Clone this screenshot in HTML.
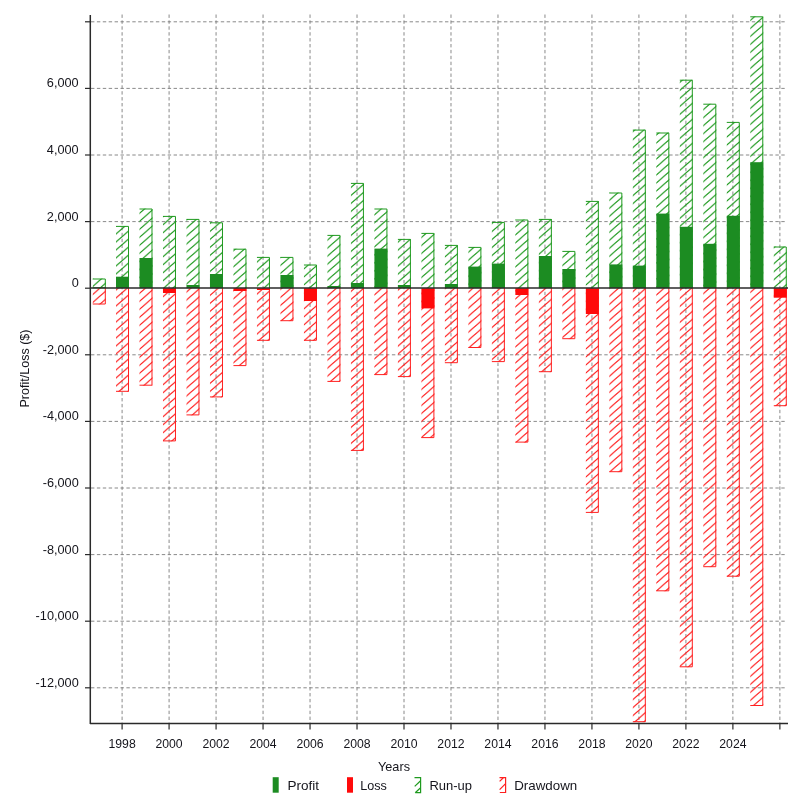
<!DOCTYPE html>
<html><head><meta charset="utf-8"><title>Profit/Loss by Years</title>
<style>html,body{margin:0;padding:0;background:#fff}body{width:802px;height:801px;overflow:hidden}svg{display:block}text{font-family:"Liberation Sans",sans-serif;fill:#15151c}</style></head><body>
<svg width="802" height="801" viewBox="0 0 802 801">
<defs>
<pattern id="hg" patternUnits="userSpaceOnUse" width="9.1" height="8" x="0" y="0"><path d="M-9.1,16 L18.2,-8 M-9.1,8 L9.1,-8 M0,16 L18.2,0" stroke="#1f9a1f" stroke-width="1.2" fill="none"/></pattern>
<pattern id="hr" patternUnits="userSpaceOnUse" width="9.1" height="8" x="0" y="0"><path d="M-9.1,16 L18.2,-8 M-9.1,8 L9.1,-8 M0,16 L18.2,0" stroke="#ff2020" stroke-width="1.2" fill="none"/></pattern>
</defs>
<rect width="802" height="801" fill="#fff"/>
<g stroke="#6e6e6e" stroke-width="0.9" stroke-dasharray="3.4 2.5" fill="none" opacity="0.9">
<line x1="122.10" y1="14.5" x2="122.10" y2="723"/>
<line x1="169.08" y1="14.5" x2="169.08" y2="723"/>
<line x1="216.07" y1="14.5" x2="216.07" y2="723"/>
<line x1="263.05" y1="14.5" x2="263.05" y2="723"/>
<line x1="310.04" y1="14.5" x2="310.04" y2="723"/>
<line x1="357.02" y1="14.5" x2="357.02" y2="723"/>
<line x1="404.00" y1="14.5" x2="404.00" y2="723"/>
<line x1="450.99" y1="14.5" x2="450.99" y2="723"/>
<line x1="497.97" y1="14.5" x2="497.97" y2="723"/>
<line x1="544.96" y1="14.5" x2="544.96" y2="723"/>
<line x1="591.94" y1="14.5" x2="591.94" y2="723"/>
<line x1="638.92" y1="14.5" x2="638.92" y2="723"/>
<line x1="685.91" y1="14.5" x2="685.91" y2="723"/>
<line x1="732.89" y1="14.5" x2="732.89" y2="723"/>
<line x1="779.88" y1="14.5" x2="779.88" y2="723"/>
<line x1="91" y1="687.80" x2="786" y2="687.80"/>
<line x1="91" y1="621.20" x2="786" y2="621.20"/>
<line x1="91" y1="554.60" x2="786" y2="554.60"/>
<line x1="91" y1="488.00" x2="786" y2="488.00"/>
<line x1="91" y1="421.40" x2="786" y2="421.40"/>
<line x1="91" y1="354.80" x2="786" y2="354.80"/>
<line x1="91" y1="221.60" x2="786" y2="221.60"/>
<line x1="91" y1="155.00" x2="786" y2="155.00"/>
<line x1="91" y1="88.40" x2="786" y2="88.40"/>
<line x1="91" y1="21.80" x2="786" y2="21.80"/>
</g>
<rect x="92.81" y="278.60" width="13.0" height="9.60" fill="url(#hg)"/>
<path d="M92.81,279.00 H105.31 V288.20" stroke="#1f9a1f" stroke-width="1" fill="none"/>
<rect x="92.81" y="288.20" width="13.0" height="16.20" fill="url(#hr)"/>
<path d="M92.81,304.00 H105.31 V288.20" stroke="#ff2020" stroke-width="1" fill="none"/>
<rect x="116.00" y="226.00" width="13.0" height="62.20" fill="url(#hg)"/>
<path d="M116.00,226.40 H128.50 V288.20" stroke="#1f9a1f" stroke-width="1" fill="none"/>
<rect x="116.00" y="288.20" width="13.0" height="103.50" fill="url(#hr)"/>
<path d="M116.00,391.30 H128.50 V288.20" stroke="#ff2020" stroke-width="1" fill="none"/>
<rect x="139.49" y="208.60" width="13.0" height="79.60" fill="url(#hg)"/>
<path d="M139.49,209.00 H151.99 V288.20" stroke="#1f9a1f" stroke-width="1" fill="none"/>
<rect x="139.49" y="288.20" width="13.0" height="97.40" fill="url(#hr)"/>
<path d="M139.49,385.20 H151.99 V288.20" stroke="#ff2020" stroke-width="1" fill="none"/>
<rect x="162.98" y="216.00" width="13.0" height="72.20" fill="url(#hg)"/>
<path d="M162.98,216.40 H175.48 V288.20" stroke="#1f9a1f" stroke-width="1" fill="none"/>
<rect x="162.98" y="288.20" width="13.0" height="153.10" fill="url(#hr)"/>
<path d="M162.98,440.90 H175.48 V288.20" stroke="#ff2020" stroke-width="1" fill="none"/>
<rect x="186.48" y="219.00" width="13.0" height="69.20" fill="url(#hg)"/>
<path d="M186.48,219.40 H198.98 V288.20" stroke="#1f9a1f" stroke-width="1" fill="none"/>
<rect x="186.48" y="288.20" width="13.0" height="127.10" fill="url(#hr)"/>
<path d="M186.48,414.90 H198.98 V288.20" stroke="#ff2020" stroke-width="1" fill="none"/>
<rect x="209.97" y="222.40" width="13.0" height="65.80" fill="url(#hg)"/>
<path d="M209.97,222.80 H222.47 V288.20" stroke="#1f9a1f" stroke-width="1" fill="none"/>
<rect x="209.97" y="288.20" width="13.0" height="109.10" fill="url(#hr)"/>
<path d="M209.97,396.90 H222.47 V288.20" stroke="#ff2020" stroke-width="1" fill="none"/>
<rect x="233.46" y="248.80" width="13.0" height="39.40" fill="url(#hg)"/>
<path d="M233.46,249.20 H245.96 V288.20" stroke="#1f9a1f" stroke-width="1" fill="none"/>
<rect x="233.46" y="288.20" width="13.0" height="77.80" fill="url(#hr)"/>
<path d="M233.46,365.60 H245.96 V288.20" stroke="#ff2020" stroke-width="1" fill="none"/>
<rect x="256.95" y="257.00" width="13.0" height="31.20" fill="url(#hg)"/>
<path d="M256.95,257.40 H269.45 V288.20" stroke="#1f9a1f" stroke-width="1" fill="none"/>
<rect x="256.95" y="288.20" width="13.0" height="52.50" fill="url(#hr)"/>
<path d="M256.95,340.30 H269.45 V288.20" stroke="#ff2020" stroke-width="1" fill="none"/>
<rect x="280.44" y="257.00" width="13.0" height="31.20" fill="url(#hg)"/>
<path d="M280.44,257.40 H292.94 V288.20" stroke="#1f9a1f" stroke-width="1" fill="none"/>
<rect x="280.44" y="288.20" width="13.0" height="32.90" fill="url(#hr)"/>
<path d="M280.44,320.70 H292.94 V288.20" stroke="#ff2020" stroke-width="1" fill="none"/>
<rect x="303.94" y="264.60" width="13.0" height="23.60" fill="url(#hg)"/>
<path d="M303.94,265.00 H316.44 V288.20" stroke="#1f9a1f" stroke-width="1" fill="none"/>
<rect x="303.94" y="288.20" width="13.0" height="52.50" fill="url(#hr)"/>
<path d="M303.94,340.30 H316.44 V288.20" stroke="#ff2020" stroke-width="1" fill="none"/>
<rect x="327.43" y="235.00" width="13.0" height="53.20" fill="url(#hg)"/>
<path d="M327.43,235.40 H339.93 V288.20" stroke="#1f9a1f" stroke-width="1" fill="none"/>
<rect x="327.43" y="288.20" width="13.0" height="93.60" fill="url(#hr)"/>
<path d="M327.43,381.40 H339.93 V288.20" stroke="#ff2020" stroke-width="1" fill="none"/>
<rect x="350.92" y="183.00" width="13.0" height="105.20" fill="url(#hg)"/>
<path d="M350.92,183.40 H363.42 V288.20" stroke="#1f9a1f" stroke-width="1" fill="none"/>
<rect x="350.92" y="288.20" width="13.0" height="162.60" fill="url(#hr)"/>
<path d="M350.92,450.40 H363.42 V288.20" stroke="#ff2020" stroke-width="1" fill="none"/>
<rect x="374.41" y="208.60" width="13.0" height="79.60" fill="url(#hg)"/>
<path d="M374.41,209.00 H386.91 V288.20" stroke="#1f9a1f" stroke-width="1" fill="none"/>
<rect x="374.41" y="288.20" width="13.0" height="86.80" fill="url(#hr)"/>
<path d="M374.41,374.60 H386.91 V288.20" stroke="#ff2020" stroke-width="1" fill="none"/>
<rect x="397.90" y="239.00" width="13.0" height="49.20" fill="url(#hg)"/>
<path d="M397.90,239.40 H410.40 V288.20" stroke="#1f9a1f" stroke-width="1" fill="none"/>
<rect x="397.90" y="288.20" width="13.0" height="88.80" fill="url(#hr)"/>
<path d="M397.90,376.60 H410.40 V288.20" stroke="#ff2020" stroke-width="1" fill="none"/>
<rect x="421.40" y="233.00" width="13.0" height="55.20" fill="url(#hg)"/>
<path d="M421.40,233.40 H433.90 V288.20" stroke="#1f9a1f" stroke-width="1" fill="none"/>
<rect x="421.40" y="288.20" width="13.0" height="149.80" fill="url(#hr)"/>
<path d="M421.40,437.60 H433.90 V288.20" stroke="#ff2020" stroke-width="1" fill="none"/>
<rect x="444.89" y="245.00" width="13.0" height="43.20" fill="url(#hg)"/>
<path d="M444.89,245.40 H457.39 V288.20" stroke="#1f9a1f" stroke-width="1" fill="none"/>
<rect x="444.89" y="288.20" width="13.0" height="74.90" fill="url(#hr)"/>
<path d="M444.89,362.70 H457.39 V288.20" stroke="#ff2020" stroke-width="1" fill="none"/>
<rect x="468.38" y="247.00" width="13.0" height="41.20" fill="url(#hg)"/>
<path d="M468.38,247.40 H480.88 V288.20" stroke="#1f9a1f" stroke-width="1" fill="none"/>
<rect x="468.38" y="288.20" width="13.0" height="59.70" fill="url(#hr)"/>
<path d="M468.38,347.50 H480.88 V288.20" stroke="#ff2020" stroke-width="1" fill="none"/>
<rect x="491.87" y="222.00" width="13.0" height="66.20" fill="url(#hg)"/>
<path d="M491.87,222.40 H504.37 V288.20" stroke="#1f9a1f" stroke-width="1" fill="none"/>
<rect x="491.87" y="288.20" width="13.0" height="73.80" fill="url(#hr)"/>
<path d="M491.87,361.60 H504.37 V288.20" stroke="#ff2020" stroke-width="1" fill="none"/>
<rect x="515.36" y="219.60" width="13.0" height="68.60" fill="url(#hg)"/>
<path d="M515.36,220.00 H527.86 V288.20" stroke="#1f9a1f" stroke-width="1" fill="none"/>
<rect x="515.36" y="288.20" width="13.0" height="154.30" fill="url(#hr)"/>
<path d="M515.36,442.10 H527.86 V288.20" stroke="#ff2020" stroke-width="1" fill="none"/>
<rect x="538.86" y="219.00" width="13.0" height="69.20" fill="url(#hg)"/>
<path d="M538.86,219.40 H551.36 V288.20" stroke="#1f9a1f" stroke-width="1" fill="none"/>
<rect x="538.86" y="288.20" width="13.0" height="83.90" fill="url(#hr)"/>
<path d="M538.86,371.70 H551.36 V288.20" stroke="#ff2020" stroke-width="1" fill="none"/>
<rect x="562.35" y="251.00" width="13.0" height="37.20" fill="url(#hg)"/>
<path d="M562.35,251.40 H574.85 V288.20" stroke="#1f9a1f" stroke-width="1" fill="none"/>
<rect x="562.35" y="288.20" width="13.0" height="50.90" fill="url(#hr)"/>
<path d="M562.35,338.70 H574.85 V288.20" stroke="#ff2020" stroke-width="1" fill="none"/>
<rect x="585.84" y="201.00" width="13.0" height="87.20" fill="url(#hg)"/>
<path d="M585.84,201.40 H598.34 V288.20" stroke="#1f9a1f" stroke-width="1" fill="none"/>
<rect x="585.84" y="288.20" width="13.0" height="224.60" fill="url(#hr)"/>
<path d="M585.84,512.40 H598.34 V288.20" stroke="#ff2020" stroke-width="1" fill="none"/>
<rect x="609.33" y="192.60" width="13.0" height="95.60" fill="url(#hg)"/>
<path d="M609.33,193.00 H621.83 V288.20" stroke="#1f9a1f" stroke-width="1" fill="none"/>
<rect x="609.33" y="288.20" width="13.0" height="183.90" fill="url(#hr)"/>
<path d="M609.33,471.70 H621.83 V288.20" stroke="#ff2020" stroke-width="1" fill="none"/>
<rect x="632.82" y="129.70" width="13.0" height="158.50" fill="url(#hg)"/>
<path d="M632.82,130.10 H645.32 V288.20" stroke="#1f9a1f" stroke-width="1" fill="none"/>
<rect x="632.82" y="288.20" width="13.0" height="433.90" fill="url(#hr)"/>
<path d="M632.82,721.70 H645.32 V288.20" stroke="#ff2020" stroke-width="1" fill="none"/>
<rect x="656.32" y="132.60" width="13.0" height="155.60" fill="url(#hg)"/>
<path d="M656.32,133.00 H668.82 V288.20" stroke="#1f9a1f" stroke-width="1" fill="none"/>
<rect x="656.32" y="288.20" width="13.0" height="303.00" fill="url(#hr)"/>
<path d="M656.32,590.80 H668.82 V288.20" stroke="#ff2020" stroke-width="1" fill="none"/>
<rect x="679.81" y="79.80" width="13.0" height="208.40" fill="url(#hg)"/>
<path d="M679.81,80.20 H692.31 V288.20" stroke="#1f9a1f" stroke-width="1" fill="none"/>
<rect x="679.81" y="288.20" width="13.0" height="379.00" fill="url(#hr)"/>
<path d="M679.81,666.80 H692.31 V288.20" stroke="#ff2020" stroke-width="1" fill="none"/>
<rect x="703.30" y="103.80" width="13.0" height="184.40" fill="url(#hg)"/>
<path d="M703.30,104.20 H715.80 V288.20" stroke="#1f9a1f" stroke-width="1" fill="none"/>
<rect x="703.30" y="288.20" width="13.0" height="278.90" fill="url(#hr)"/>
<path d="M703.30,566.70 H715.80 V288.20" stroke="#ff2020" stroke-width="1" fill="none"/>
<rect x="726.79" y="122.00" width="13.0" height="166.20" fill="url(#hg)"/>
<path d="M726.79,122.40 H739.29 V288.20" stroke="#1f9a1f" stroke-width="1" fill="none"/>
<rect x="726.79" y="288.20" width="13.0" height="288.40" fill="url(#hr)"/>
<path d="M726.79,576.20 H739.29 V288.20" stroke="#ff2020" stroke-width="1" fill="none"/>
<rect x="750.28" y="16.40" width="13.0" height="271.80" fill="url(#hg)"/>
<path d="M750.28,16.80 H762.78 V288.20" stroke="#1f9a1f" stroke-width="1" fill="none"/>
<rect x="750.28" y="288.20" width="13.0" height="417.70" fill="url(#hr)"/>
<path d="M750.28,705.50 H762.78 V288.20" stroke="#ff2020" stroke-width="1" fill="none"/>
<rect x="773.78" y="246.60" width="13.0" height="41.60" fill="url(#hg)"/>
<path d="M773.78,247.00 H786.28 V288.20" stroke="#1f9a1f" stroke-width="1" fill="none"/>
<rect x="773.78" y="288.20" width="13.0" height="117.90" fill="url(#hr)"/>
<path d="M773.78,405.70 H786.28 V288.20" stroke="#ff2020" stroke-width="1" fill="none"/>
<rect x="92.81" y="287.30" width="13.0" height="0.90" fill="#1c8c22"/>
<rect x="116.00" y="276.70" width="13.0" height="11.50" fill="#1c8c22"/>
<rect x="139.49" y="258.00" width="13.0" height="30.20" fill="#1c8c22"/>
<rect x="162.98" y="288.20" width="13.0" height="4.80" fill="#ff0a0a"/>
<rect x="186.48" y="285.00" width="13.0" height="3.20" fill="#1c8c22"/>
<rect x="209.97" y="274.00" width="13.0" height="14.20" fill="#1c8c22"/>
<rect x="233.46" y="288.20" width="13.0" height="2.80" fill="#ff0a0a"/>
<rect x="256.95" y="288.20" width="13.0" height="1.80" fill="#ff0a0a"/>
<rect x="280.44" y="275.00" width="13.0" height="13.20" fill="#1c8c22"/>
<rect x="303.94" y="288.20" width="13.0" height="12.80" fill="#ff0a0a"/>
<rect x="327.43" y="286.00" width="13.0" height="2.20" fill="#1c8c22"/>
<rect x="350.92" y="283.00" width="13.0" height="5.20" fill="#1c8c22"/>
<rect x="374.41" y="248.60" width="13.0" height="39.60" fill="#1c8c22"/>
<rect x="397.90" y="285.00" width="13.0" height="3.20" fill="#1c8c22"/>
<rect x="421.40" y="288.20" width="13.0" height="20.20" fill="#ff0a0a"/>
<rect x="444.89" y="284.00" width="13.0" height="4.20" fill="#1c8c22"/>
<rect x="468.38" y="266.60" width="13.0" height="21.60" fill="#1c8c22"/>
<rect x="491.87" y="263.60" width="13.0" height="24.60" fill="#1c8c22"/>
<rect x="515.36" y="288.20" width="13.0" height="6.80" fill="#ff0a0a"/>
<rect x="538.86" y="256.00" width="13.0" height="32.20" fill="#1c8c22"/>
<rect x="562.35" y="269.00" width="13.0" height="19.20" fill="#1c8c22"/>
<rect x="585.84" y="288.20" width="13.0" height="25.80" fill="#ff0a0a"/>
<rect x="609.33" y="264.40" width="13.0" height="23.80" fill="#1c8c22"/>
<rect x="632.82" y="265.60" width="13.0" height="22.60" fill="#1c8c22"/>
<rect x="656.32" y="213.60" width="13.0" height="74.60" fill="#1c8c22"/>
<rect x="679.81" y="226.80" width="13.0" height="61.40" fill="#1c8c22"/>
<rect x="703.30" y="243.80" width="13.0" height="44.40" fill="#1c8c22"/>
<rect x="726.79" y="215.80" width="13.0" height="72.40" fill="#1c8c22"/>
<rect x="750.28" y="162.20" width="13.0" height="126.00" fill="#1c8c22"/>
<rect x="773.78" y="288.20" width="13.0" height="9.50" fill="#ff0a0a"/>
<g stroke="#2a2a2a" fill="none">
<line x1="90.3" y1="15" x2="90.3" y2="724" stroke-width="1.5"/>
<line x1="90" y1="723.4" x2="788" y2="723.4" stroke-width="1.5"/>
<line x1="90" y1="288.0" x2="788" y2="288.0" stroke-width="1.3"/>
<line x1="85" y1="687.80" x2="91" y2="687.80" stroke-width="1.2"/>
<line x1="85" y1="621.20" x2="91" y2="621.20" stroke-width="1.2"/>
<line x1="85" y1="554.60" x2="91" y2="554.60" stroke-width="1.2"/>
<line x1="85" y1="488.00" x2="91" y2="488.00" stroke-width="1.2"/>
<line x1="85" y1="421.40" x2="91" y2="421.40" stroke-width="1.2"/>
<line x1="85" y1="354.80" x2="91" y2="354.80" stroke-width="1.2"/>
<line x1="85" y1="288.20" x2="91" y2="288.20" stroke-width="1.2"/>
<line x1="85" y1="221.60" x2="91" y2="221.60" stroke-width="1.2"/>
<line x1="85" y1="155.00" x2="91" y2="155.00" stroke-width="1.2"/>
<line x1="85" y1="88.40" x2="91" y2="88.40" stroke-width="1.2"/>
<line x1="85" y1="21.80" x2="91" y2="21.80" stroke-width="1.2"/>
<line x1="122.10" y1="723" x2="122.10" y2="729.5" stroke-width="1.2"/>
<line x1="169.08" y1="723" x2="169.08" y2="729.5" stroke-width="1.2"/>
<line x1="216.07" y1="723" x2="216.07" y2="729.5" stroke-width="1.2"/>
<line x1="263.05" y1="723" x2="263.05" y2="729.5" stroke-width="1.2"/>
<line x1="310.04" y1="723" x2="310.04" y2="729.5" stroke-width="1.2"/>
<line x1="357.02" y1="723" x2="357.02" y2="729.5" stroke-width="1.2"/>
<line x1="404.00" y1="723" x2="404.00" y2="729.5" stroke-width="1.2"/>
<line x1="450.99" y1="723" x2="450.99" y2="729.5" stroke-width="1.2"/>
<line x1="497.97" y1="723" x2="497.97" y2="729.5" stroke-width="1.2"/>
<line x1="544.96" y1="723" x2="544.96" y2="729.5" stroke-width="1.2"/>
<line x1="591.94" y1="723" x2="591.94" y2="729.5" stroke-width="1.2"/>
<line x1="638.92" y1="723" x2="638.92" y2="729.5" stroke-width="1.2"/>
<line x1="685.91" y1="723" x2="685.91" y2="729.5" stroke-width="1.2"/>
<line x1="732.89" y1="723" x2="732.89" y2="729.5" stroke-width="1.2"/>
<line x1="779.88" y1="723" x2="779.88" y2="729.5" stroke-width="1.2"/>
</g>
<g font-size="12px">
<text transform="translate(78.7,686.80) scale(1.06,1)" text-anchor="end">-12,000</text>
<text transform="translate(78.7,620.20) scale(1.06,1)" text-anchor="end">-10,000</text>
<text transform="translate(78.7,553.60) scale(1.06,1)" text-anchor="end">-8,000</text>
<text transform="translate(78.7,487.00) scale(1.06,1)" text-anchor="end">-6,000</text>
<text transform="translate(78.7,420.40) scale(1.06,1)" text-anchor="end">-4,000</text>
<text transform="translate(78.7,353.80) scale(1.06,1)" text-anchor="end">-2,000</text>
<text transform="translate(78.7,287.20) scale(1.06,1)" text-anchor="end">0</text>
<text transform="translate(78.7,220.60) scale(1.06,1)" text-anchor="end">2,000</text>
<text transform="translate(78.7,154.00) scale(1.06,1)" text-anchor="end">4,000</text>
<text transform="translate(78.7,87.40) scale(1.06,1)" text-anchor="end">6,000</text>
<text x="108.50" y="748.4" textLength="27.2" lengthAdjust="spacingAndGlyphs">1998</text>
<text x="155.48" y="748.4" textLength="27.2" lengthAdjust="spacingAndGlyphs">2000</text>
<text x="202.47" y="748.4" textLength="27.2" lengthAdjust="spacingAndGlyphs">2002</text>
<text x="249.45" y="748.4" textLength="27.2" lengthAdjust="spacingAndGlyphs">2004</text>
<text x="296.44" y="748.4" textLength="27.2" lengthAdjust="spacingAndGlyphs">2006</text>
<text x="343.42" y="748.4" textLength="27.2" lengthAdjust="spacingAndGlyphs">2008</text>
<text x="390.40" y="748.4" textLength="27.2" lengthAdjust="spacingAndGlyphs">2010</text>
<text x="437.39" y="748.4" textLength="27.2" lengthAdjust="spacingAndGlyphs">2012</text>
<text x="484.37" y="748.4" textLength="27.2" lengthAdjust="spacingAndGlyphs">2014</text>
<text x="531.36" y="748.4" textLength="27.2" lengthAdjust="spacingAndGlyphs">2016</text>
<text x="578.34" y="748.4" textLength="27.2" lengthAdjust="spacingAndGlyphs">2018</text>
<text x="625.32" y="748.4" textLength="27.2" lengthAdjust="spacingAndGlyphs">2020</text>
<text x="672.31" y="748.4" textLength="27.2" lengthAdjust="spacingAndGlyphs">2022</text>
<text x="719.29" y="748.4" textLength="27.2" lengthAdjust="spacingAndGlyphs">2024</text>
</g>
<text x="378" y="770.5" textLength="32" lengthAdjust="spacingAndGlyphs" font-size="12.6px">Years</text>
<text transform="translate(29,368.5) rotate(-90)" text-anchor="middle" textLength="78" lengthAdjust="spacingAndGlyphs" font-size="12.6px">Profit/Loss ($)</text>
<rect x="272.7" y="777.2" width="6" height="15.5" fill="#1c8c22"/>
<rect x="347" y="777.2" width="6" height="15.5" fill="#ff0a0a"/>
<path d="M414.5,777.7 H420.6 V792.6 H415.2 M414.7,786.4 L420.6,780.7 M415.2,792.8 L420.6,787.8" stroke="#1f9a1f" stroke-width="1.2" fill="none"/>
<path d="M499.5,777.7 H505.6 V792.5 H499.8 M499.6,781.4 L503.4,777.8 M499.6,789.7 L505.6,783.7" stroke="#ff2020" stroke-width="1.2" fill="none"/>
<g font-size="12.6px">
<text x="287.4" y="790.3" textLength="31.6" lengthAdjust="spacingAndGlyphs">Profit</text>
<text x="360.2" y="790.3" textLength="26.6" lengthAdjust="spacingAndGlyphs">Loss</text>
<text x="429.4" y="790.3" textLength="42.6" lengthAdjust="spacingAndGlyphs">Run-up</text>
<text x="514.2" y="790.3" textLength="63" lengthAdjust="spacingAndGlyphs">Drawdown</text>
</g>
</svg></body></html>
